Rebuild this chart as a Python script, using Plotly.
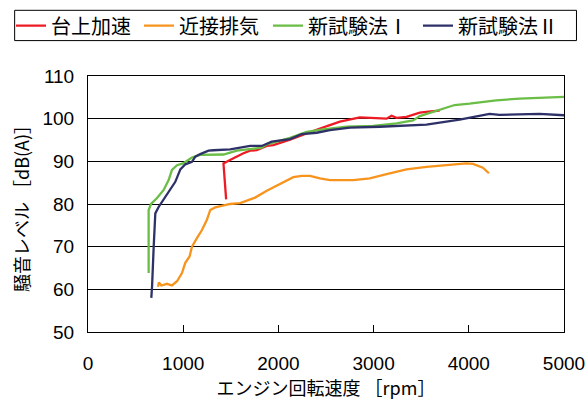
import plotly.graph_objects as go

# 台上加速 (red)
red_x = [1451, 1440, 1423, 1528, 1563, 1633, 1703, 1773, 1878, 1947, 2122, 2192, 2366, 2437, 2541, 2646, 2856, 3000, 3136, 3188, 3241, 3346, 3450, 3485, 3600, 3694]
red_y = [81.1, 85.0, 89.5, 90.7, 91.1, 91.9, 92.5, 92.6, 93.6, 93.8, 95.1, 95.7, 97.2, 97.7, 98.5, 99.3, 100.3, 100.2, 100.0, 100.7, 100.2, 100.4, 101.2, 101.4, 101.7, 101.9]

# 近接排気 (orange)
ora_x = [735, 745, 770, 830, 882, 935, 987, 1022, 1067, 1092, 1144, 1197, 1249, 1284, 1336, 1493, 1598, 1703, 1755, 1878, 2017, 2157, 2245, 2332, 2437, 2541, 2786, 2960, 3136, 3346, 3555, 3764, 3974, 4044, 4148, 4211]
ora_y = [60.6, 61.6, 60.9, 61.3, 60.9, 61.9, 63.8, 66.2, 67.7, 70.0, 72.0, 73.9, 76.3, 78.6, 79.2, 80.0, 80.2, 81.0, 81.5, 83.1, 84.6, 86.3, 86.6, 86.6, 86.0, 85.6, 85.6, 86.0, 87.0, 88.1, 88.7, 89.1, 89.5, 89.4, 88.5, 87.2]

# 新試験法Ⅰ (green)
grn_x = [637, 637, 662, 725, 795, 847, 882, 935, 998, 1057, 1092, 1179, 1423, 1563, 1825, 1878, 2122, 2297, 2471, 2716, 2995, 3241, 3415, 3485, 3694, 3851, 4008, 4288, 4533, 4742, 5000]
grn_y = [63.8, 78.6, 80.0, 81.4, 83.3, 85.6, 88.0, 89.1, 89.5, 90.5, 90.9, 91.5, 91.6, 92.5, 93.2, 94.0, 95.5, 96.9, 97.5, 98.1, 98.3, 98.9, 99.6, 100.6, 102.1, 103.2, 103.5, 104.3, 104.7, 104.9, 105.1]

# 新試験法Ⅱ (navy)
nav_x = [665, 673, 690, 707, 742, 795, 865, 917, 970, 1022, 1092, 1127, 1179, 1266, 1318, 1493, 1703, 1825, 1930, 2122, 2245, 2402, 2541, 2751, 3065, 3275, 3485, 3555, 3904, 4079, 4218, 4323, 4742, 5000]
nav_y = [58.0, 60.7, 70.0, 77.8, 79.3, 81.0, 83.3, 85.2, 88.1, 89.3, 89.9, 91.1, 91.7, 92.5, 92.6, 92.8, 93.6, 93.6, 94.6, 95.2, 96.4, 96.7, 97.3, 97.9, 98.1, 98.3, 98.6, 98.6, 99.8, 100.6, 101.1, 100.9, 101.1, 100.8]

names = ["台上加速", "近接排気", "新試験法Ⅰ", "新試験法Ⅱ"]
colors = ["#ed1c24", "#f7941d", "#6abd45", "#2e3168"]
xs_all = [red_x, ora_x, grn_x, nav_x]
ys_all = [red_y, ora_y, grn_y, nav_y]

W, H = 588, 405
L, R, T, B = 87.5, 23.5, 75.7, 73.3
PW, PH = W - L - R, H - T - B

FONT = "Liberation Sans, Noto Sans CJK JP"
CJK = "Noto Sans CJK JP"

legend_ids = ["legend", "legend2", "legend3", "legend4"]
legend_left_px = [11, 139, 268, 418]

fig = go.Figure()
for i in range(4):
    fig.add_trace(go.Scatter(x=xs_all[i], y=ys_all[i], mode="lines", name=names[i],
                             line=dict(color=colors[i], width=2.3),
                             legend=legend_ids[i], showlegend=True))

legend_cfg = {}
for i, lid in enumerate(legend_ids):
    legend_cfg[lid] = dict(orientation="h", xref="container", yref="container",
                           x=legend_left_px[i] / W, xanchor="left",
                           y=1 - 25.7 / H, yanchor="middle",
                           bgcolor="rgba(0,0,0,0)", borderwidth=0,
                           font=dict(family=CJK, size=20, color="black"),
                           itemwidth=30)

def px_x(p):
    return (p - L) / PW

def px_y(p):
    return (H - B - p) / PH

fig.update_layout(
    width=W, height=H,
    margin=dict(l=L, r=R, t=T, b=B, autoexpand=False),
    paper_bgcolor="white", plot_bgcolor="white",
    font=dict(family=FONT, size=17, color="black"),
    showlegend=True,
    shapes=[dict(type="rect", xref="paper", yref="paper",
                 x0=px_x(14), x1=px_x(577), y0=px_y(40.3), y1=px_y(10),
                 line=dict(color="black", width=1), fillcolor="rgba(0,0,0,0)")],
    xaxis=dict(range=[0, 5000], dtick=1000, tick0=0,
               showline=True, linecolor="black", linewidth=1, mirror=True,
               ticks="inside", ticklen=7, tickcolor="black",
               showgrid=False, zeroline=False,
               tickfont=dict(size=19), ticklabelstandoff=14,
               title=dict(text="エンジン回転速度 ［rpm］", standoff=6,
                          font=dict(family=CJK, size=18))),
    yaxis=dict(range=[50, 110], dtick=10, tick0=50,
               showline=True, linecolor="black", linewidth=1, mirror=True,
               showgrid=True, gridcolor="black", gridwidth=1,
               ticks="", zeroline=False,
               tickfont=dict(size=19), ticklabelstandoff=9,
               title=dict(text="騒音レベル ［dB(A)］", standoff=8,
                          font=dict(family=CJK, size=18))),
    **legend_cfg,
)

fig.write_html("out.html", config={"displayModeBar": False},
               post_script="document.body.style.margin='0';")
